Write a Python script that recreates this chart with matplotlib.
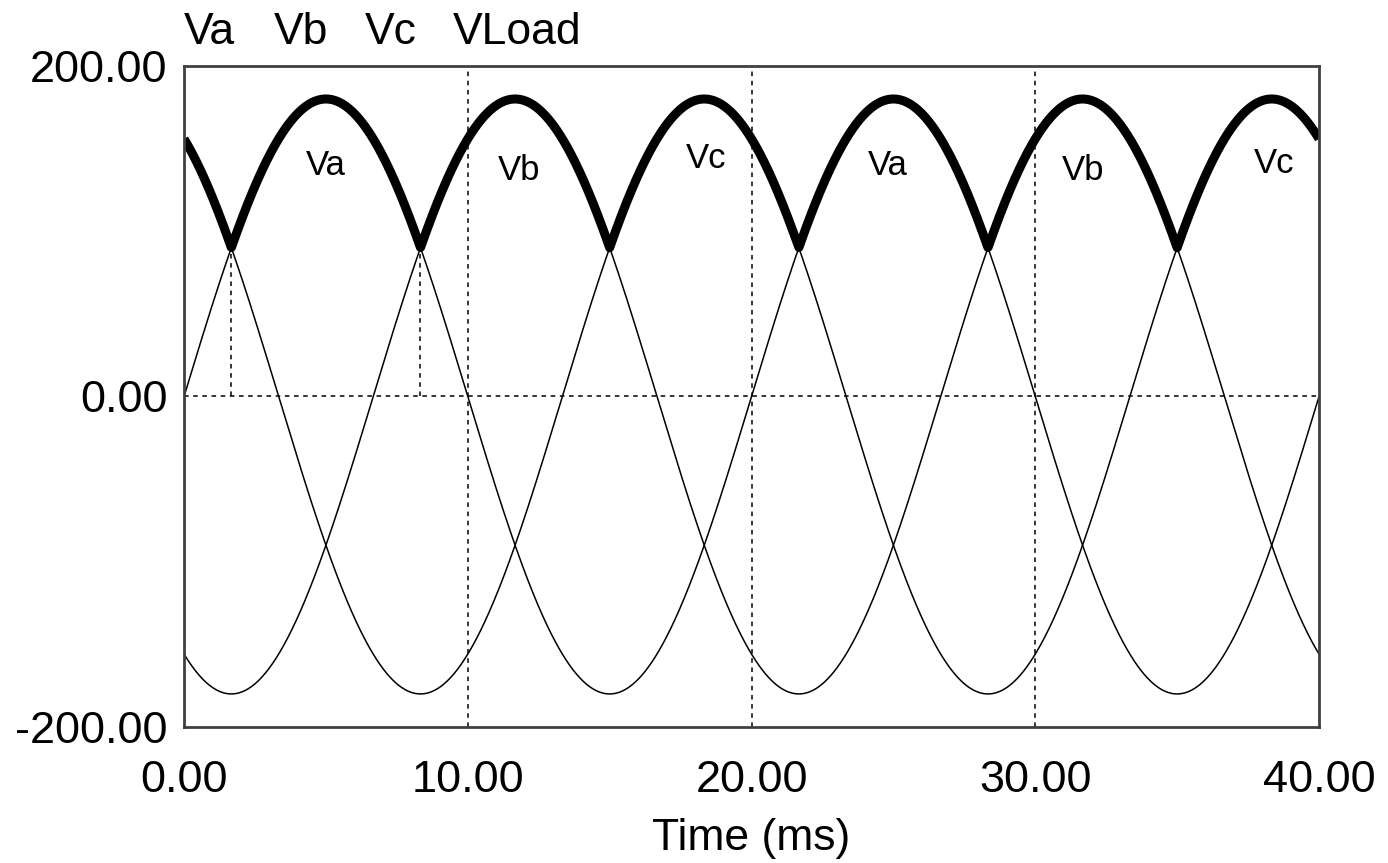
import numpy as np
import matplotlib.pyplot as plt

plt.rcParams['font.family'] = ['Liberation Sans', 'DejaVu Sans']

# Three-phase supply (50 Hz, 180 V peak) feeding a half-wave rectifier
amplitude = 180.0
freq_hz = 50.0
phase_shift_deg = [0.0, -120.0, -240.0]

# Phase labels written above each conduction interval (time ms, volts)
label_names = ["Va", "Vb", "Vc", "Va", "Vb", "Vc"]
label_t = [5.0, 11.8, 18.4, 24.8, 31.7, 38.4]
label_v = [140, 137, 144, 140, 137, 141]

# Trace names listed above the plot, with their x offsets in axes units
trace_names = ["Va", "Vb", "Vc", "VLoad"]
trace_x = [0.0, 0.079, 0.1595, 0.237]

# Commutation points marked with drop lines
commutation_t = [1.667, 8.333]

x_ticks = [0, 10, 20, 30, 40]
y_ticks = [-200, 0, 200]

t = np.linspace(0, 40, 4001)
phases = [amplitude * np.sin(2 * np.pi * freq_hz * t / 1000 + np.radians(p))
          for p in phase_shift_deg]
v_load = np.max(phases, axis=0)

fig = plt.figure(figsize=(13.88, 8.63), dpi=100)
ax = fig.add_axes([0.1326, 0.1576, 0.8177, 0.766])

for v in phases:
    ax.plot(t, v, color="black", linewidth=1.1)
ax.plot(t, v_load, color="black", linewidth=6.5, solid_capstyle="butt")

# dashed grid
dash = (0, (3, 3))
for xv in x_ticks[1:-1]:
    ax.axvline(xv, color="black", linewidth=1.1, linestyle=dash)
ax.axhline(0, color="black", linewidth=1.1, linestyle=dash)
for tc in commutation_t:
    vc = amplitude * np.sin(2 * np.pi * freq_hz * tc / 1000)
    ax.plot([tc, tc], [0, vc], color="black", linewidth=1.1, linestyle=dash)

for name, lt, lv in zip(label_names, label_t, label_v):
    ax.text(lt, lv, name, fontsize=25, ha="center", va="center")

ax.set_xlim(0, 40)
ax.set_ylim(-200, 200)
ax.set_xticks(x_ticks)
ax.set_xticklabels([f"{v:.2f}" for v in x_ticks])
ax.set_yticks(y_ticks)
ax.set_yticklabels([f"{v:.2f}" for v in y_ticks])
ax.tick_params(length=0, labelsize=32.5)
ax.tick_params(axis="x", pad=24)
ax.tick_params(axis="y", pad=12)
for s in ax.spines.values():
    s.set_color("#404040")
    s.set_linewidth(2)

ax.set_xlabel("Time (ms)", fontsize=32, labelpad=12)
for name, tx in zip(trace_names, trace_x):
    ax.text(tx, 1.0333, name, transform=ax.transAxes,
            fontsize=32, ha="left", va="baseline")

fig.savefig("out.png", dpi=100)
